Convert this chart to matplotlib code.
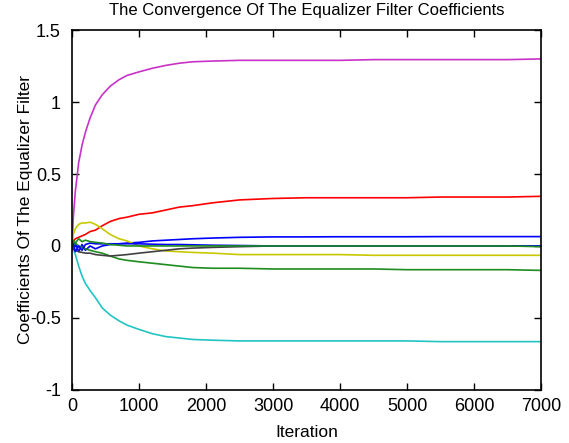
import matplotlib
matplotlib.use("Agg")
import matplotlib.pyplot as plt

iterations = [0, 20, 50, 100, 150, 200, 270, 350, 450, 570, 700, 820, 1000, 1200,
              1400, 1600, 1800, 2100, 2500, 3000, 3500, 4000, 4500, 5000, 5500,
              6000, 6500, 7000]

w_blue1 = [0, -0.03, 0.02, -0.04, 0.01, -0.03, 0.0, -0.02, 0.0, 0.01, 0.015, 0.02,
           0.025, 0.035, 0.04, 0.045, 0.05, 0.055, 0.06, 0.063, 0.063, 0.064, 0.064,
           0.064, 0.065, 0.065, 0.065, 0.065]
w_green1 = [0, -0.01, 0.02, 0.0, -0.01, -0.02, -0.03, -0.04, -0.05, -0.07, -0.09, -0.10,
            -0.11, -0.12, -0.13, -0.14, -0.15, -0.155, -0.155, -0.16, -0.16, -0.16,
            -0.16, -0.165, -0.165, -0.165, -0.165, -0.17]
w_red = [0, 0.03, 0.05, 0.06, 0.07, 0.08, 0.10, 0.11, 0.14, 0.17, 0.19, 0.20, 0.22,
         0.23, 0.25, 0.27, 0.28, 0.30, 0.32, 0.33, 0.335, 0.335, 0.335, 0.335, 0.34,
         0.34, 0.34, 0.345]
w_cyan = [0, -0.02, -0.06, -0.14, -0.21, -0.26, -0.31, -0.36, -0.43, -0.48, -0.52,
          -0.55, -0.58, -0.61, -0.63, -0.64, -0.65, -0.655, -0.66, -0.66, -0.66,
          -0.66, -0.66, -0.66, -0.665, -0.665, -0.665, -0.665]
w_magenta = [0, 0.20, 0.38, 0.58, 0.70, 0.79, 0.89, 0.98, 1.05, 1.11, 1.155, 1.185,
             1.21, 1.235, 1.255, 1.27, 1.28, 1.285, 1.29, 1.29, 1.29, 1.29, 1.295,
             1.295, 1.295, 1.295, 1.295, 1.30]
w_yellow = [0, 0.08, 0.12, 0.15, 0.16, 0.16, 0.165, 0.15, 0.12, 0.08, 0.05, 0.035,
            0.0, -0.02, -0.035, -0.04, -0.045, -0.05, -0.06, -0.06, -0.06, -0.06,
            -0.065, -0.065, -0.065, -0.065, -0.065, -0.065]
w_black = [0, -0.02, -0.03, -0.04, -0.045, -0.05, -0.05, -0.06, -0.065, -0.07, -0.065,
           -0.06, -0.05, -0.04, -0.03, -0.02, -0.015, -0.01, -0.005, 0.0, 0.0, 0.0,
           0.0, 0.0, 0.0, 0.0, 0.0, 0.0]
w_blue2 = [0, 0.02, -0.04, 0.0, -0.03, 0.01, 0.02, 0.015, 0.015, 0.015, 0.015, 0.015,
           0.015, 0.012, 0.01, 0.01, 0.008, 0.005, 0.003, 0.0, 0.0, 0.0, 0.0, 0.0,
           0.0, 0.0, 0.0, 0.0]
w_green2 = [0, 0.04, 0.02, 0.05, 0.03, 0.04, 0.03, 0.025, 0.02, 0.01, 0.005, 0.0,
            0.0, 0.0, 0.0, 0.0, 0.0, 0.0, 0.0, 0.0, 0.0, 0.0, 0.0, 0.0, 0.0, 0.0,
            0.0, -0.005]

series = [w_blue1, w_green1, w_red, w_cyan, w_magenta, w_yellow, w_black, w_blue2, w_green2]
colors = ["#0000ff", "#1e8c1e", "#ff0000", "#22c4c4", "#c832c8", "#c8c800",
          "#404040", "#0000ff", "#1e8c1e"]

xticks = [0, 1000, 2000, 3000, 4000, 5000, 6000, 7000]
yticks = [-1, -0.5, 0, 0.5, 1, 1.5]
ytick_labels = ["-1", "-0.5", "0", "0.5", "1", "1.5"]

plt.rcParams['font.family'] = ['Liberation Sans', 'DejaVu Sans']

fig = plt.figure(figsize=(5.69, 4.43), dpi=100)
ax = fig.add_axes([0.1265, 0.12, 0.825, 0.812])

for vals, col in zip(series, colors):
    ax.plot(iterations, vals, color=col, lw=1.2)

ax.set_xlim(0, 7000)
ax.set_ylim(-1, 1.5)
ax.set_xticks(xticks)
ax.set_xticklabels([str(t) for t in xticks])
ax.set_yticks(yticks)
ax.set_yticklabels(ytick_labels)
ax.tick_params(axis='x', direction='in', length=5, width=1, top=True,
               labelsize=13, pad=6)
ax.tick_params(axis='y', direction='in', length=5, width=1, right=True,
               labelsize=13, pad=8)
for s in ax.spines.values():
    s.set_linewidth(1.2)

ax.set_title("The Convergence Of The Equalizer Filter Coefficients", fontsize=12, pad=11)
ax.set_xlabel("Iteration", fontsize=12.5, labelpad=7)
ax.set_ylabel("Coefficients Of The Equalizer Filter", fontsize=12.5, labelpad=-2)

fig.savefig("out.png", dpi=100)
